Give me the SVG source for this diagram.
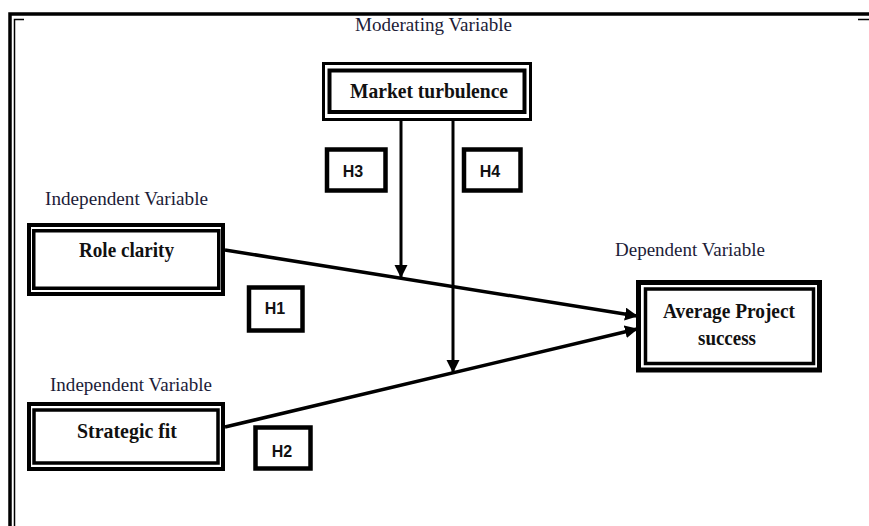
<svg xmlns="http://www.w3.org/2000/svg" width="869" height="526" viewBox="0 0 869 526">
<style>
.lbl{font-family:"Liberation Serif","Times New Roman",serif;font-size:19px;fill:#1c1c38}
.nm{font-family:"Liberation Serif","Times New Roman",serif;font-weight:bold;font-size:21px;fill:#111}
.h{font-family:"Liberation Sans",Arial,sans-serif;font-weight:bold;font-size:16px;fill:#111;text-anchor:middle}
.box{fill:none;stroke:#000}
.conn{stroke:#000;stroke-width:3.5;fill:none}
.vconn{stroke:#000;stroke-width:3;fill:none}
</style>
<defs>
<marker id="ah" markerUnits="userSpaceOnUse" markerWidth="14" markerHeight="14" refX="12" refY="6.5" orient="auto">
<path d="M0,0 L13,6.5 L0,13 Z" fill="#000"/>
</marker>
</defs>
<rect width="869" height="526" fill="#fff"/>
<g id="frame">
<path d="M10,526 V14 H869" fill="none" stroke="#000" stroke-width="3.5"/>
<path d="M14.5,526 V19.5 H24" fill="none" stroke="#000" stroke-width="1.5"/>
<path d="M858,19.5 H869" fill="none" stroke="#000" stroke-width="1.5"/>
</g>
<g id="labels">
<text class="lbl" x="355" y="31" textLength="157" lengthAdjust="spacingAndGlyphs">Moderating Variable</text>
<text class="lbl" x="45" y="205" textLength="163" lengthAdjust="spacingAndGlyphs">Independent Variable</text>
<text class="lbl" x="50" y="391" textLength="162" lengthAdjust="spacingAndGlyphs">Independent Variable</text>
<text class="lbl" x="615" y="256" textLength="150" lengthAdjust="spacingAndGlyphs">Dependent Variable</text>
</g>
<g id="connectors">
<line class="conn" x1="225" y1="250" x2="637" y2="316" marker-end="url(#ah)"/>
<line class="conn" x1="225" y1="427" x2="637" y2="329" marker-end="url(#ah)"/>
<line class="vconn" x1="401" y1="121" x2="401" y2="277" marker-end="url(#ah)"/>
<line class="vconn" x1="453" y1="121" x2="453" y2="372" marker-end="url(#ah)"/>
</g>
<g id="market">
<rect class="box" x="323.5" y="63.5" width="207" height="56" stroke-width="3" fill="#fff"/>
<rect class="box" x="329.5" y="70.5" width="195" height="41.5" stroke-width="4"/>
<text class="nm" x="350" y="98" textLength="158" lengthAdjust="spacingAndGlyphs">Market turbulence</text>
</g>
<g id="role">
<rect class="box" x="29" y="225" width="194" height="69" stroke-width="4"/>
<rect class="box" x="33.75" y="230.75" width="185" height="57.5" stroke-width="3.5"/>
<text class="nm" x="79" y="257" textLength="95" lengthAdjust="spacingAndGlyphs">Role clarity</text>
</g>
<g id="strategic">
<rect class="box" x="29" y="404" width="194" height="65" stroke-width="4"/>
<rect class="box" x="34" y="410" width="184" height="53" stroke-width="3.5"/>
<text class="nm" x="77" y="438" textLength="100" lengthAdjust="spacingAndGlyphs">Strategic fit</text>
</g>
<g id="success">
<rect class="box" x="638.5" y="282.5" width="181" height="87.5" stroke-width="5" fill="#fff"/>
<rect class="box" x="645.5" y="289" width="168" height="74.5" stroke-width="3.5"/>
<text class="nm" x="663" y="318" font-size="20" textLength="132" lengthAdjust="spacingAndGlyphs">Average Project</text>
<text class="nm" x="698" y="345" font-size="18" textLength="58" lengthAdjust="spacingAndGlyphs">success</text>
</g>
<g id="h1">
<rect class="box" x="249" y="287.5" width="53.5" height="43" stroke-width="4.5"/>
<text class="h" x="275" y="314">H1</text>
</g>
<g id="h2">
<rect class="box" x="255.5" y="427.5" width="55" height="41" stroke-width="4.5"/>
<text class="h" x="282" y="457">H2</text>
</g>
<g id="h3">
<rect class="box" x="327" y="149.5" width="58.5" height="41" stroke-width="4.5"/>
<text class="h" x="353" y="177">H3</text>
</g>
<g id="h4">
<rect class="box" x="464" y="149.5" width="56.5" height="41" stroke-width="4.5"/>
<text class="h" x="490" y="177">H4</text>
</g>
</svg>
